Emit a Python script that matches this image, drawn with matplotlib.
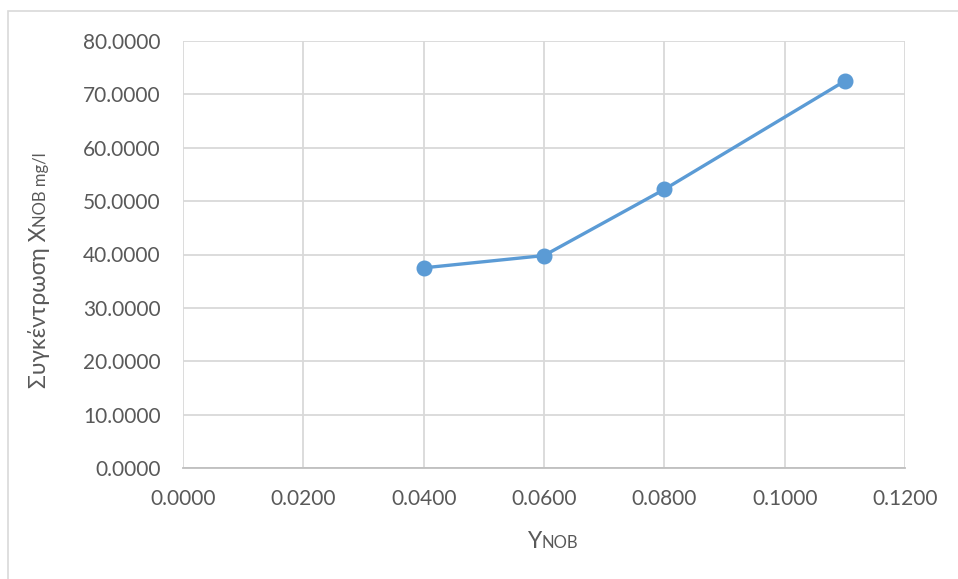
import matplotlib
matplotlib.use("Agg")
import matplotlib.pyplot as plt
from matplotlib.patches import Rectangle

# Y_NOB values and the matching X_NOB concentration (mg/l)
y_nob = [0.04, 0.06, 0.08, 0.11]
x_nob = [37.5, 39.8, 52.2, 72.5]

x_ticks = [0.0, 0.02, 0.04, 0.06, 0.08, 0.10, 0.12]
y_ticks = [0, 10, 20, 30, 40, 50, 60, 70, 80]

TEXT = "#595959"
GRID = "#d9d9d9"
BLUE = "#5b9bd5"
FONT = ["Lato", "DejaVu Sans"]

plt.rcParams["font.family"] = FONT

W, H = 958, 579
fig = plt.figure(figsize=(W / 100, H / 100), dpi=100)
ax = fig.add_axes([183 / W, 1 - 468 / H, (905 - 183) / W, (468 - 41) / H])

# chart-area frame, open on the right and bottom
fig.patches.append(Rectangle((8 / W, -0.1), 1.2, 1 - 11 / H + 0.1,
                             transform=fig.transFigure, fill=False,
                             edgecolor=GRID, linewidth=1.2, zorder=0))

ax.plot(y_nob, x_nob, color=BLUE, linewidth=2.4, marker="o",
        markersize=10.5, zorder=3)

ax.set_xlim(0, 0.12)
ax.set_ylim(0, 80)
ax.set_xticks(x_ticks)
ax.set_yticks(y_ticks)
ax.set_xticklabels([f"{v:.4f}" for v in x_ticks])
ax.set_yticklabels([f"{v:.4f}" for v in y_ticks])
ax.tick_params(length=0, labelsize=15, colors=TEXT)
ax.tick_params(axis="y", pad=16)
ax.tick_params(axis="x", pad=15)
ax.grid(True, color=GRID, linewidth=1.3)
ax.set_axisbelow(True)
for side in ["top", "right", "left"]:
    ax.spines[side].set_visible(False)
ax.spines["bottom"].set_color("#bfbfbf")
ax.spines["bottom"].set_linewidth(1.3)

# axis titles with small-caps style subscripts, pieced together
fig.canvas.draw()
r = fig.canvas.get_renderer()

t1 = fig.text(0, 0, "Y", fontsize=16.5, color=TEXT, va="baseline")
t2 = fig.text(0, 0, "NOB", fontsize=12, color=TEXT, va="baseline")
w1 = t1.get_window_extent(r).width
w2 = t2.get_window_extent(r).width
x0 = 553 - (w1 + w2) / 2
t1.set_position((x0 / W, 1 - 548 / H))
t2.set_position(((x0 + w1) / W, 1 - 548 / H))

s1 = fig.text(0, 0, "Συγκέντρωση X", fontsize=16.5, color=TEXT, rotation=90,
              rotation_mode="anchor", ha="left", va="baseline")
s2 = fig.text(0, 0, "NOB mg/l", fontsize=12, color=TEXT, rotation=90,
              rotation_mode="anchor", ha="left", va="baseline")
h1 = s1.get_window_extent(r).height
h2 = s2.get_window_extent(r).height
y0 = (H - 270) - (h1 + h2) / 2
s1.set_position((46 / W, y0 / H))
s2.set_position((46 / W, (y0 + h1) / H))

fig.savefig("out.png", dpi=100)
